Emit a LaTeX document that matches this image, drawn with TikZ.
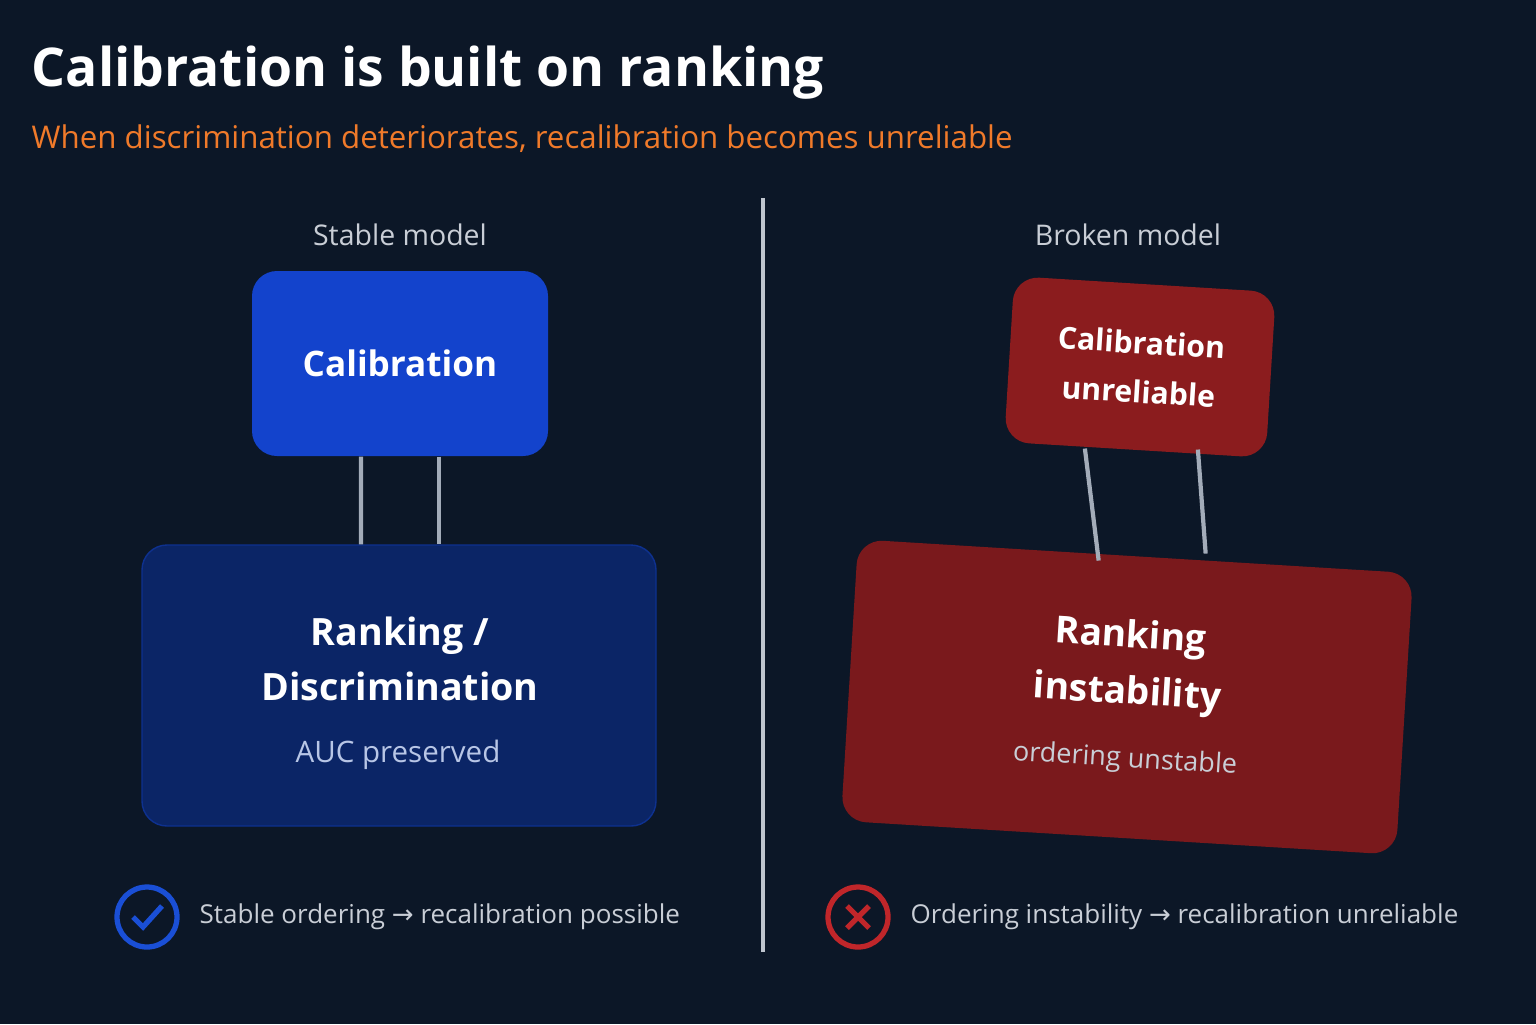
\documentclass[tikz,border=0pt]{standalone}
\usepackage{fontspec}
\setmainfont{Open Sans}
\newfontfamily\arrowfont{DejaVu Sans}
\usetikzlibrary{calc}
\definecolor{bgdark}{HTML}{0C1727}
\definecolor{titleorange}{HTML}{F07A2A}
\definecolor{labelgray}{HTML}{C9CED6}
\definecolor{linkgray}{HTML}{A3ACB9}
\definecolor{calblue}{HTML}{1343CC}
\definecolor{rankblue}{HTML}{0B2566}
\definecolor{aucblue}{HTML}{B8C6E6}
\definecolor{calred}{HTML}{8B1C1E}
\definecolor{rankred}{HTML}{7A191C}
\definecolor{okblue}{HTML}{1A4FD6}
\definecolor{badred}{HTML}{C0262A}
\tikzset{
  box/.style={rounded corners=0.25cm, text=white, align=center, inner sep=0pt},
  link/.style={draw=linkgray, line width=1.2pt},
  caption/.style={text=labelgray, font=\fontsize{8.1}{10}\selectfont},
  note/.style={text=labelgray, anchor=west, inner sep=0pt, font=\fontsize{7.4}{9}\selectfont}
}
\newcommand{\arr}{{\arrowfont\char"2192}}
\begin{document}
\begin{tikzpicture}
\fill[bgdark] (0,0) rectangle (15.36,-10.24);
\useasboundingbox (0,0) rectangle (15.36,-10.24);
% title
\node[anchor=west, inner sep=0pt, text=white, font=\fontsize{15.2}{18}\selectfont\bfseries] (title) at (0.31,-0.73) {Calibration is built on ranking};
\node[anchor=west, inner sep=0pt, text=titleorange, font=\fontsize{8.9}{11}\selectfont] (sub) at (0.31,-1.39) {When discrimination deteriorates, recalibration becomes unreliable};
% divider
\draw[draw=linkgray!70, line width=1pt] (7.63,-1.98) -- (7.63,-9.52);
% stable model
\node[caption] (stable) at (4.00,-2.35) {Stable model};
\node[box, fill=calblue, minimum width=2.96cm, minimum height=1.85cm, font=\fontsize{10}{13}\selectfont\bfseries] (cal) at (4.00,-3.635) {Calibration};
\node[box, fill=rankblue, draw=calblue!40!rankblue, minimum width=5.14cm, minimum height=2.81cm] (rank) at (3.99,-6.855) {};
\node[text=white, align=center, font=\fontsize{10.7}{15.5}\selectfont\bfseries] (ranktxt) at (4.00,-6.59) {Ranking /\\Discrimination};
\node[text=aucblue, font=\fontsize{8.4}{11}\selectfont] (auc) at (3.98,-7.55) {AUC preserved};
\draw[link] ($(cal.south)+(-0.39,0)$) -- ($(rank.north)+(-0.38,0)$);
\draw[link] ($(cal.south)+(0.39,0)$) -- ($(rank.north)+(0.40,0)$);
% broken model
\node[caption] (broken) at (11.28,-2.35) {Broken model};
\node[box, fill=calred, rotate=-3.5, minimum width=2.62cm, minimum height=1.66cm, font=\fontsize{8.6}{14}\selectfont\bfseries] (calbad) at (11.40,-3.67) {Calibration\\unreliable};
\node[box, fill=rankred, rotate=-3.5, minimum width=5.56cm, minimum height=2.82cm] (rankbad) at (11.27,-6.97) {};
\node[text=white, rotate=-3.5, align=center, font=\fontsize{10.6}{16}\selectfont\bfseries] (rankbadtxt) at (11.29,-6.66) {Ranking\\instability};
\node[text=labelgray, rotate=-3.5, font=\fontsize{7.7}{10}\selectfont] (ordering) at (11.25,-7.60) {ordering unstable};
\draw[link] ($(calbad.south)+(-0.50,0.02)$) -- ($(rankbad.north)+(-0.37,-0.05)$);
\draw[link] ($(calbad.south)+(0.63,0.01)$) -- ($(rankbad.north)+(0.70,0.02)$);
% notes
\node[circle, draw=okblue, line width=1.5pt, minimum size=0.6cm] (ok) at (1.47,-9.17) {};
\draw[okblue, line width=1.5pt] ($(ok.center)+(-0.14,0)$) -- ($(ok.center)+(-0.04,-0.10)$) -- ($(ok.center)+(0.15,0.11)$);
\node[note] (oktxt) at (1.99,-9.17) {Stable ordering \arr{} recalibration possible};
\node[circle, draw=badred, line width=1.5pt, minimum size=0.6cm] (bad) at (8.58,-9.17) {};
\draw[badred, line width=1.5pt] ($(bad.center)+(-0.11,0.11)$) -- ($(bad.center)+(0.11,-0.11)$)
  ($(bad.center)+(-0.11,-0.11)$) -- ($(bad.center)+(0.11,0.11)$);
\node[note] (badtxt) at (9.10,-9.17) {Ordering instability \arr{} recalibration unreliable};
\end{tikzpicture}
\end{document}
